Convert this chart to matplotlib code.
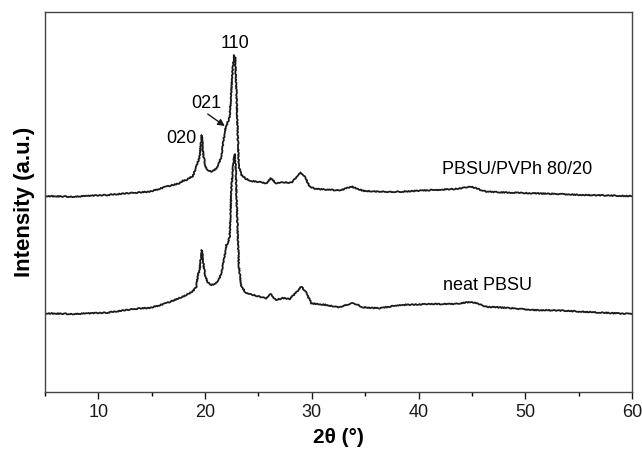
import matplotlib
matplotlib.use("Agg")
import matplotlib.pyplot as plt

plt.rcParams['font.family'] = ['Liberation Sans', 'DejaVu Sans']

# 2-theta (deg) and intensity (a.u.)
two_theta_blend = [5.0, 7.6, 10.75, 13.87, 14.8, 16.37, 17.6, 17.92, 18.24, 18.86, 19.18, 19.33,
                   19.49, 19.70, 19.86, 20.05, 20.24, 20.59, 20.8, 21.05, 21.27, 21.52, 21.74,
                   21.93, 22.07, 22.30, 22.46, 22.61, 22.72, 22.82, 22.93, 23.08, 23.17, 23.40,
                   23.87, 24.36, 25.11, 25.74, 26.14, 26.68, 27.30, 28.08, 28.49, 28.96, 29.33,
                   29.80, 30.43, 31.98, 32.61, 33.71, 34.79, 36.36, 38.23, 41.35, 43.4, 44.95,
                   46.36, 48.5, 50.73, 53.2, 55.41, 57.9, 59.79, 60.0]
int_blend = [196, 195.3, 197, 199.7, 200.3, 205.3, 208.7, 211.3, 212, 216, 225.3, 230,
             235.3, 257, 235.3, 225.3, 222, 220.5, 221.5, 223.7, 228, 235.3, 252,
             265, 268, 275.3, 302, 325.3, 337, 334, 302, 252, 225.3, 217,
             213, 211, 210, 208.7, 213.7, 208.7, 209.7, 209.3, 214, 219.3, 216,
             205.3, 203, 202, 201.3, 205.5, 201.3, 200.3, 200.3, 202, 203, 205.3,
             200.3, 199.5, 198.7, 198, 197, 196.5, 196, 196]

two_theta_neat = [5.0, 7.6, 10.75, 13.87, 14.8, 16.37, 17.92, 18.55, 18.86, 19.18, 19.33, 19.49,
                  19.70, 19.96, 20.24, 20.59, 20.9, 21.27, 21.52, 21.83, 21.99, 22.14, 22.30,
                  22.46, 22.63, 22.77, 22.86, 22.98, 23.17, 23.40, 23.87, 24.17, 25.11, 25.74,
                  26.14, 26.64, 27.27, 27.92, 28.49, 29.02, 29.43, 29.96, 31.36, 32.61, 33.86,
                  34.79, 36.36, 38.23, 41.35, 43.4, 44.95, 46.36, 48.5, 50.73, 53.2, 55.41,
                  57.9, 60.0]
int_neat = [78.7, 78, 79.3, 83.7, 84, 88.7, 95.3, 98.7, 101, 105.3, 117, 122,
            142, 118.7, 110, 107, 108, 112, 118.7, 135.3, 147, 148.7, 155.3,
            202, 227, 238, 227, 185.3, 125.3, 105.3, 98.7, 98, 95.3, 93.7,
            98, 92, 94, 93, 99, 105.3, 100, 88.7, 87, 84.7, 89.3,
            84.7, 83.7, 87, 88, 88, 90.3, 85.3, 84, 82, 81.5, 80.3,
            79, 78]

x_ticks = [10, 20, 30, 40, 50, 60]

fig = plt.figure(figsize=(6.42, 4.55), dpi=100)
ax = fig.add_axes([0.070, 0.1385, 0.9145, 0.835])

for xs, ys in [(two_theta_blend, int_blend), (two_theta_neat, int_neat)]:
    ln, = ax.plot(xs, ys, color='#1a1a1a', lw=1.3)
    ln.set_sketch_params(scale=0.5, length=2.0, randomness=3.0)

ax.set_xlim(5, 60)
ax.set_ylim(0, 380)
ax.set_xticks(x_ticks)
ax.set_xticks([5, 15, 25, 35, 45, 55], minor=True)
ax.set_yticks([])
ax.tick_params(axis='x', which='major', direction='out', length=5, width=1, labelsize=13, colors='#1a1a1a', pad=4)
ax.tick_params(axis='x', which='minor', direction='out', length=3, width=1)
for s in ax.spines.values():
    s.set_color('#444444')
    s.set_linewidth(1.0)

ax.set_xlabel('2θ (°)', fontsize=15, fontweight='bold', labelpad=5)
ax.set_ylabel('Intensity (a.u.)', fontsize=16, fontweight='bold', labelpad=7)

ax.text(22.77, 349, '110', fontsize=13, ha='center', va='center')
ax.text(20.15, 289, '021', fontsize=13, ha='center', va='center')
ax.text(17.8, 254, '020', fontsize=13, ha='center', va='center')
ax.annotate('', xy=(21.85, 266), xytext=(20.25, 278),
            arrowprops=dict(arrowstyle='-|>', color='#1a1a1a', lw=1.0,
                            mutation_scale=10, shrinkA=0, shrinkB=0))
ax.text(49.2, 223, 'PBSU/PVPh 80/20', fontsize=13, ha='center', va='center')
ax.text(46.5, 107, 'neat PBSU', fontsize=13, ha='center', va='center')

fig.savefig('out.png', dpi=100)
